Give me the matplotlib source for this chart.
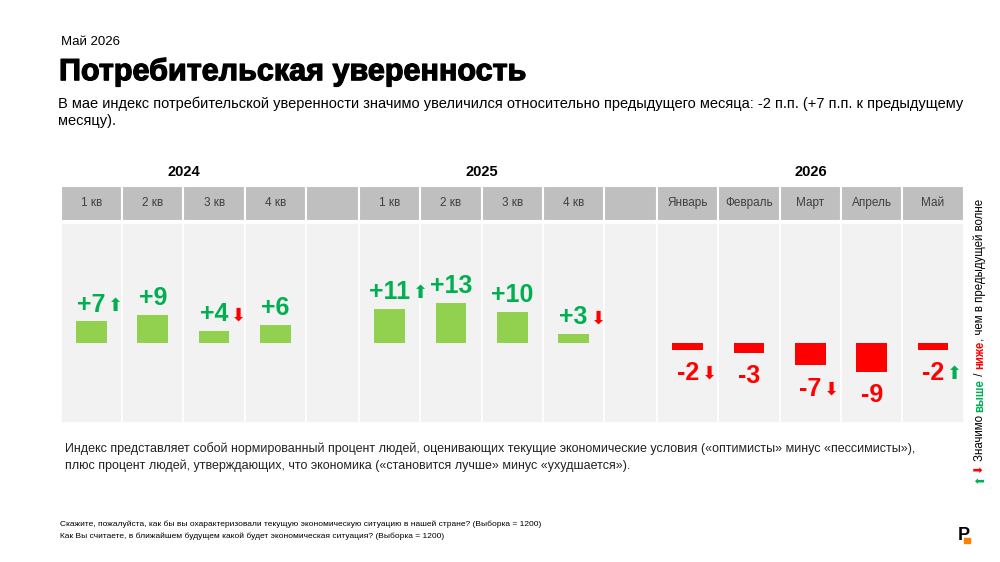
import matplotlib
matplotlib.use('Agg')
import matplotlib.pyplot as plt
import matplotlib.patheffects as pe
from matplotlib.patches import Rectangle

plt.rcParams['font.family'] = ['Liberation Sans', 'DejaVu Sans']

# данные
years = ['2024', '2025', '2026']
periods = [['1 кв', '2 кв', '3 кв', '4 кв'],
           ['1 кв', '2 кв', '3 кв', '4 кв'],
           ['Январь', 'Февраль', 'Март', 'Апрель', 'Май']]
values = [[7, 9, 4, 6],
          [11, 13, 10, 3],
          [-2, -3, -7, -9, -2]]
# значимое изменение к предыдущей волне
changes = [['up', None, 'down', None],
           ['up', None, None, 'down'],
           ['down', None, 'down', None, 'up']]

GREEN_TXT = '#00B050'
GREEN_BAR = '#92D050'
RED = '#FF0000'
HEAD = '#BFBFBF'
PANEL = '#F2F2F2'

W, H = 1000, 562
fig = plt.figure(figsize=(10, 5.62), dpi=100)

def fx(px):
    return px / W

def fy(px):
    return 1 - px / H

# оси: шапка и панель
ax_h = fig.add_axes([fx(60.7), fy(220.5), fx(903), (220.5 - 186) / H])
ax = fig.add_axes([fx(60.7), fy(423), fx(903), (423 - 222.5) / H])

gap = 0.86
ymin, ymax = -25.3, 38.5

# позиции колонок
cols = []
x = 0
for g, (yr, per, val, ch) in enumerate(zip(years, periods, values, changes)):
    start = x
    for p, v, c in zip(per, val, ch):
        cols.append((x, 1.0, 'data', p, v, c))
        x += 1
    ax_h.text((start + x) / 2, 1.42, yr, transform=ax_h.get_xaxis_transform(),
              ha='center', va='center', fontsize=10.5, fontweight='bold')
    if g < len(years) - 1:
        cols.append((x, gap, 'gap', '', None, None))
        x += gap
total = x

for left, w, kind, lab, v, c in cols:
    ax_h.bar(left, 1, width=w, bottom=0, align='edge', color=HEAD,
             edgecolor='white', linewidth=1.5)
    ax.bar(left, ymax - ymin, width=w, bottom=ymin, align='edge', color=PANEL,
           edgecolor='white', linewidth=1.2, zorder=0)
    if kind != 'data':
        continue
    xc = left + w / 2
    ax_h.text(xc, 0.5, lab, ha='center', va='center', fontsize=8.5, color='#404040')
    col = GREEN_BAR if v > 0 else RED
    ax.bar(xc, v, width=0.5, color=col, zorder=2)
    if v > 0:
        t = ax.annotate(f'+{v}', xy=(xc, v), xytext=(0, 7), textcoords='offset points',
                        ha='center', va='baseline', fontsize=18, fontweight='bold',
                        color=GREEN_TXT)
    else:
        t = ax.annotate(f'-{abs(v)}', xy=(xc, v), xytext=(0, -8), textcoords='offset points',
                        ha='center', va='top', fontsize=18, fontweight='bold',
                        color=RED)
    if c is not None:
        sym = '⬆' if c == 'up' else '⬇'
        acol = GREEN_TXT if c == 'up' else RED
        ax.annotate(sym, xy=(1, 0), xycoords=t, xytext=(2, 1.5), textcoords='offset points',
                    ha='left', va='bottom', fontsize=13, color=acol,
                    family='DejaVu Sans')

for a in (ax, ax_h):
    a.set_xlim(0, total)
    a.axis('off')
ax.set_ylim(ymin, ymax)
ax_h.set_ylim(0, 1)

# заголовки
fig.text(fx(61), fy(42), 'Май 2026', fontsize=9.5, va='center')
fig.text(fx(59), fy(72), 'Потребительская уверенность', fontsize=22,
         fontweight='bold', va='center',
         path_effects=[pe.withStroke(linewidth=0.9, foreground='black')])
fig.text(fx(58), fy(104), 'В мае индекс потребительской уверенности значимо увеличился '
         'относительно предыдущего месяца: -2 п.п. (+7 п.п. к предыдущему',
         fontsize=10.5, va='center')
fig.text(fx(58), fy(121), 'месяцу).', fontsize=10.5, va='center')

fig.text(fx(65), fy(449), 'Индекс представляет собой нормированный процент людей, '
         'оценивающих текущие экономические условия («оптимисты» минус «пессимисты»),',
         fontsize=9, va='center', color='#222222')
fig.text(fx(65), fy(466), 'плюс процент людей, утверждающих, что экономика '
         '(«становится лучше» минус «ухудшается»).',
         fontsize=9, va='center', color='#222222')

fig.text(fx(60), fy(524), 'Скажите, пожалуйста, как бы вы охарактеризовали текущую '
         'экономическую ситуацию в нашей стране? (Выборка = 1200)',
         fontsize=6.0, va='center')
fig.text(fx(60), fy(536), 'Как Вы считаете, в ближайшем будущем какой будет '
         'экономическая ситуация? (Выборка = 1200)',
         fontsize=6.0, va='center')

# вертикальная легенда
pieces = [('⬆', GREEN_TXT, 'normal', 'DejaVu Sans'),
          ('⬇ ', RED, 'normal', 'DejaVu Sans'),
          ('Значимо ', 'black', 'normal', None),
          ('выше', GREEN_TXT, 'bold', None),
          (' / ', 'black', 'normal', None),
          ('ниже', RED, 'bold', None),
          (', чем в предыдущей волне', 'black', 'normal', None)]
prev = None
for txt, colr, wt, fam in pieces:
    kw = dict(rotation=90, fontsize=8.3, color=colr, fontweight=wt,
              ha='center', va='bottom')
    if fam:
        kw['family'] = fam
    if prev is None:
        prev = fig.text(fx(980), fy(484), txt, **kw)
    else:
        prev = ax.annotate(txt, xy=(0.5, 1), xycoords=prev, annotation_clip=False, **kw)

# логотип
fig.add_artist(Rectangle((fx(963.5), fy(543)), fx(6.5), 5 / H, color='#FF7F00', zorder=1))
fig.text(fx(964), fy(535), 'P', fontsize=13, fontweight='bold', ha='center',
         va='center', zorder=2)

fig.savefig('out.png', dpi=100)
